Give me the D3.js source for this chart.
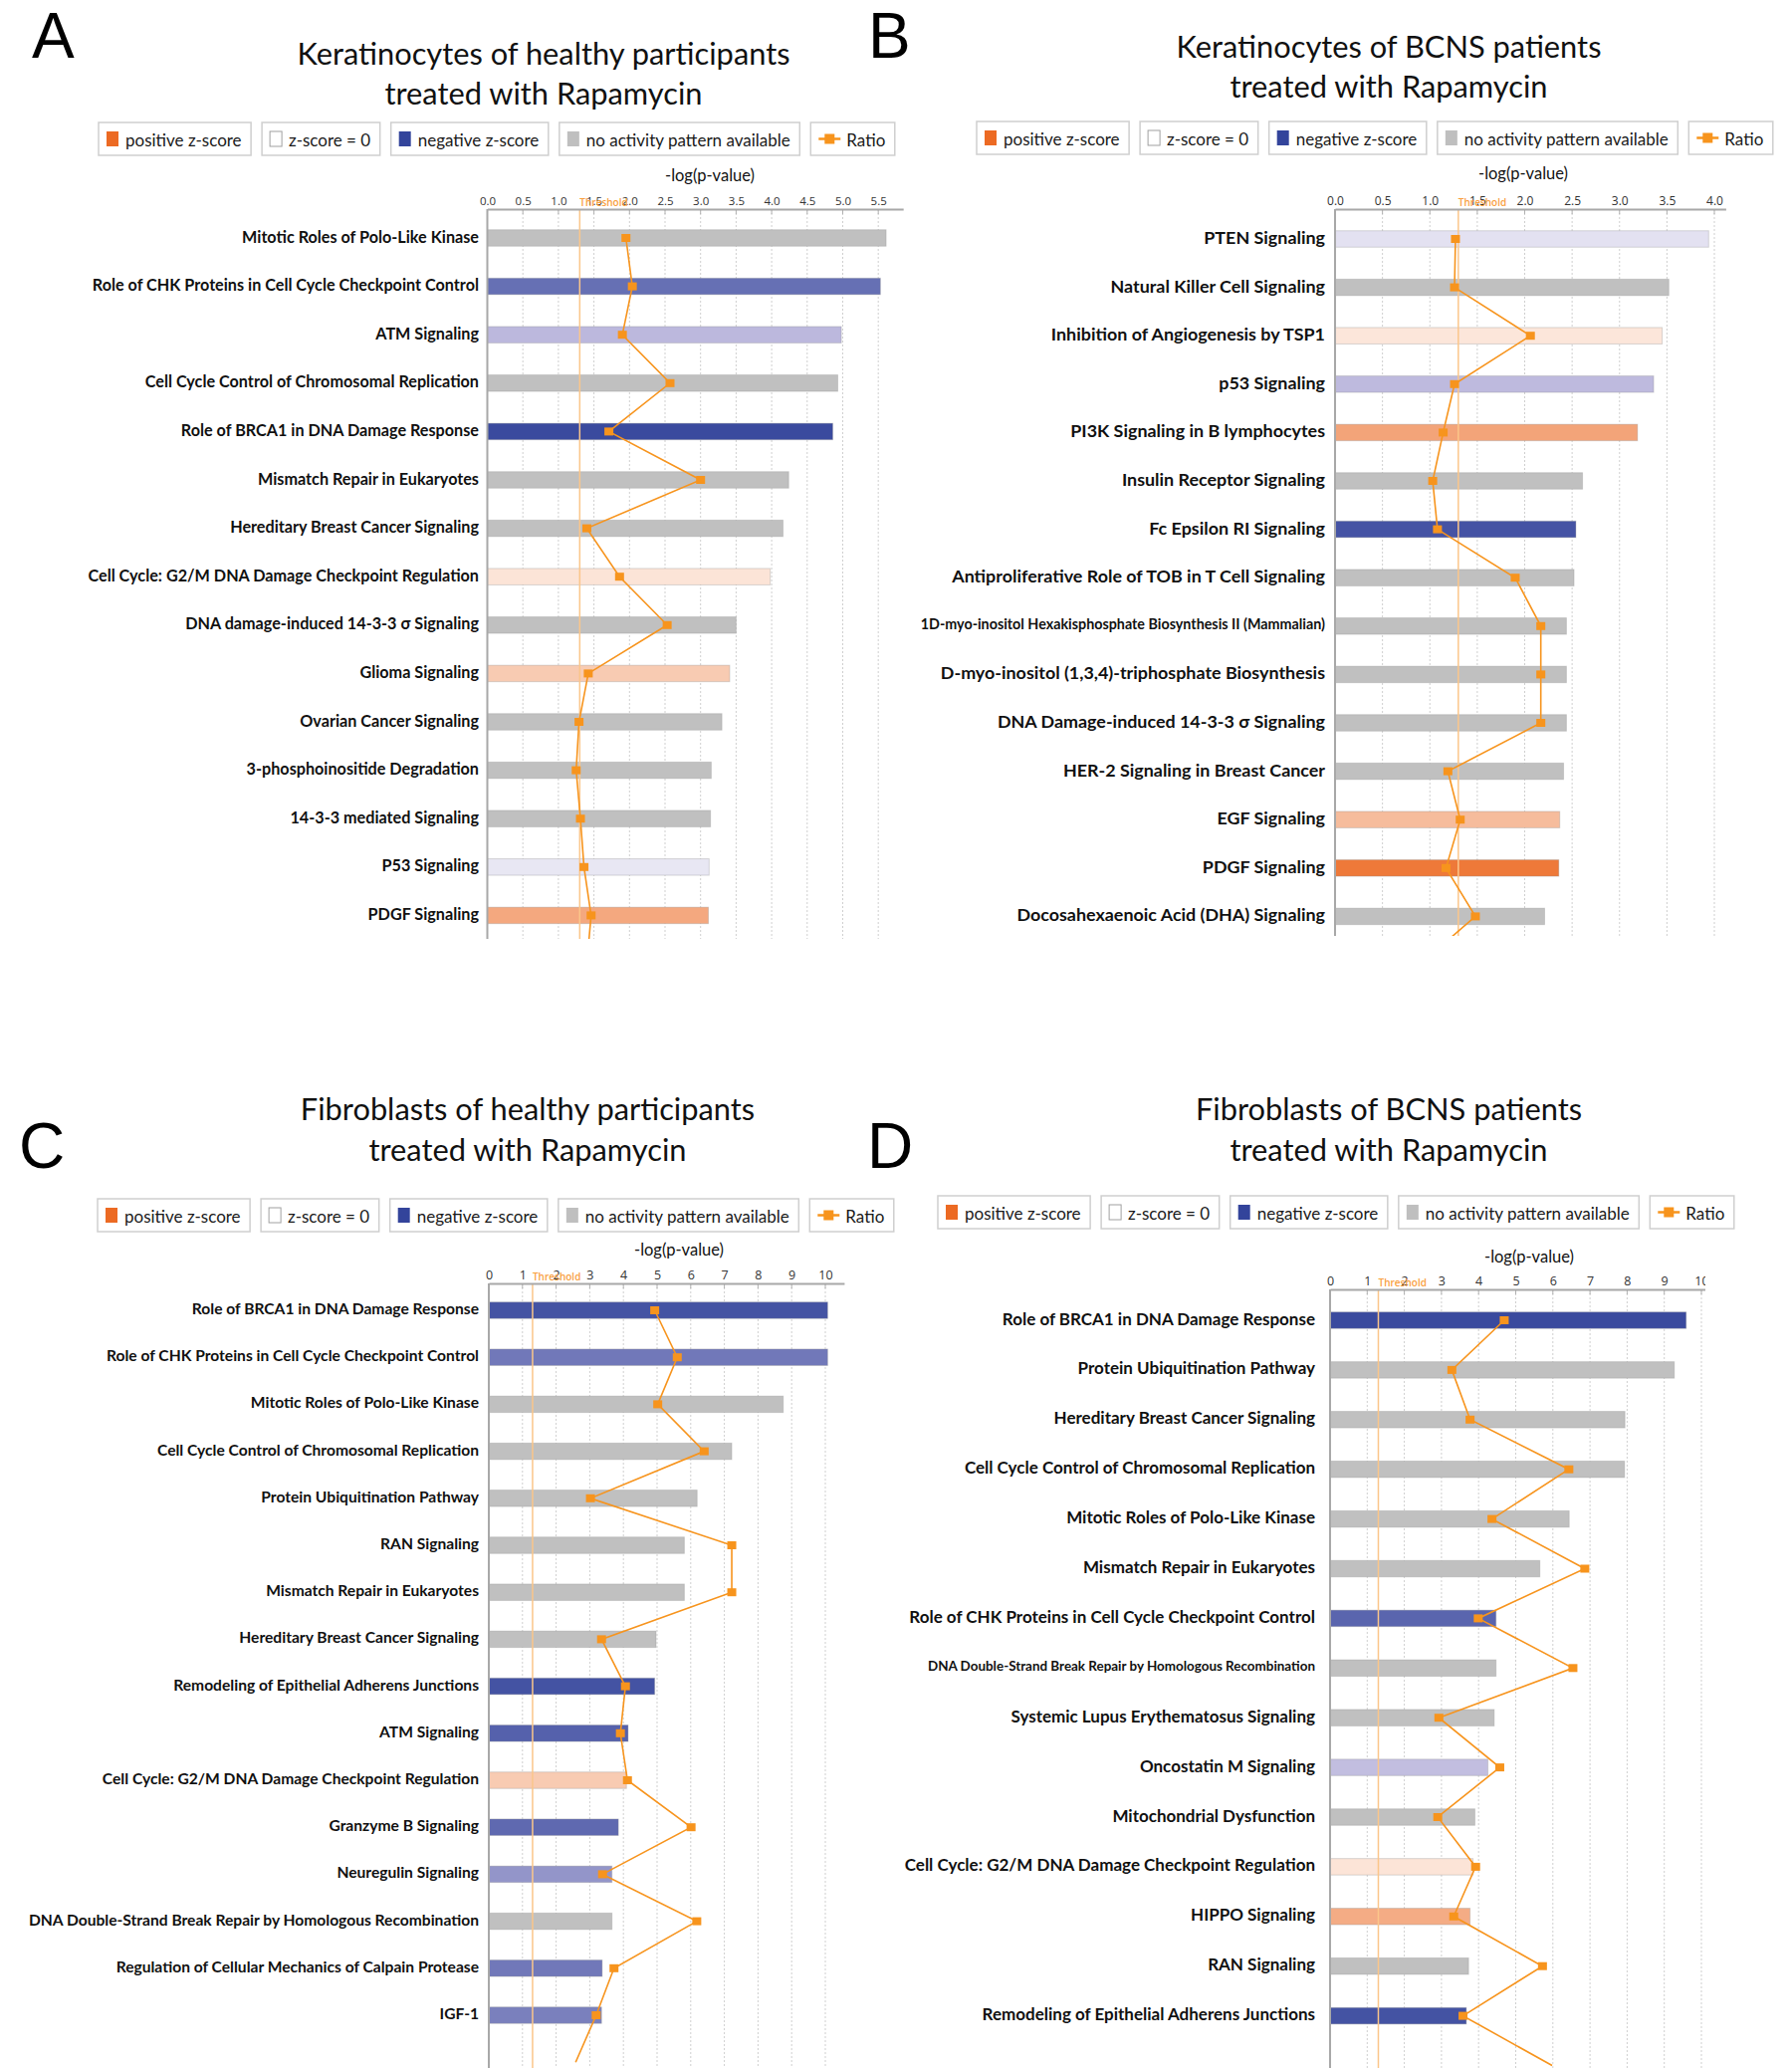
<!DOCTYPE html>
<html><head><meta charset="utf-8">
<script src="https://cdn.jsdelivr.net/npm/d3@7"></script>
<style>body{margin:0;background:#fff;} svg{display:block}</style>
</head><body>
<svg id="chart" width="1800" height="2077"></svg>
<script>
// ---------------- DATA ----------------
const legendItems = ["positive z-score", "z-score = 0", "negative z-score", "no activity pattern available", "Ratio"];
const thresholdValue = 1.3;

const titleA = ["Keratinocytes of healthy participants", "treated with Rapamycin"];
const titleB = ["Keratinocytes of BCNS patients", "treated with Rapamycin"];
const titleC = ["Fibroblasts of healthy participants", "treated with Rapamycin"];
const titleD = ["Fibroblasts of BCNS patients", "treated with Rapamycin"];

const ticksA = [0, 0.5, 1, 1.5, 2, 2.5, 3, 3.5, 4, 4.5, 5, 5.5];
const ticksB = [0, 0.5, 1, 1.5, 2, 2.5, 3, 3.5, 4];
const ticksC = [0, 1, 2, 3, 4, 5, 6, 7, 8, 9, 10];
const ticksD = [0, 1, 2, 3, 4, 5, 6, 7, 8, 9, 10];

const catsA = ["Mitotic Roles of Polo-Like Kinase", "Role of CHK Proteins in Cell Cycle Checkpoint Control", "ATM Signaling",
  "Cell Cycle Control of Chromosomal Replication", "Role of BRCA1 in DNA Damage Response", "Mismatch Repair in Eukaryotes",
  "Hereditary Breast Cancer Signaling", "Cell Cycle: G2/M DNA Damage Checkpoint Regulation", "DNA damage-induced 14-3-3 σ Signaling",
  "Glioma Signaling", "Ovarian Cancer Signaling", "3-phosphoinositide Degradation", "14-3-3 mediated Signaling",
  "P53 Signaling", "PDGF Signaling"];
const pvalA = [5.61, 5.53, 4.98, 4.93, 4.86, 4.24, 4.16, 3.98, 3.50, 3.41, 3.30, 3.15, 3.14, 3.12, 3.11];
// last ratio value belongs to the next (off-chart) pathway; only its connecting line is visible
const ratioA = [1.95, 2.04, 1.90, 2.57, 1.71, 3.00, 1.40, 1.86, 2.53, 1.42, 1.29, 1.25, 1.31, 1.36, 1.46, 1.40];
const zA = [null, -2.25, -1.0, null, -2.9, null, null, 0.55, null, 1.05, null, null, null, -0.34, 1.75];

const catsB = ["PTEN Signaling", "Natural Killer Cell Signaling", "Inhibition of Angiogenesis by TSP1", "p53 Signaling",
  "PI3K Signaling in B lymphocytes", "Insulin Receptor Signaling", "Fc Epsilon RI Signaling",
  "Antiproliferative Role of TOB in T Cell Signaling", "1D-myo-inositol Hexakisphosphate Biosynthesis II (Mammalian)",
  "D-myo-inositol (1,3,4)-triphosphate Biosynthesis", "DNA Damage-induced 14-3-3 σ Signaling",
  "HER-2 Signaling in Breast Cancer", "EGF Signaling", "PDGF Signaling", "Docosahexaenoic Acid (DHA) Signaling"];
const pvalB = [3.94, 3.52, 3.45, 3.36, 3.19, 2.61, 2.54, 2.52, 2.44, 2.44, 2.44, 2.41, 2.37, 2.36, 2.21];
const ratioB = [1.27, 1.26, 2.06, 1.26, 1.14, 1.03, 1.08, 1.90, 2.17, 2.17, 2.17, 1.19, 1.32, 1.17, 1.48, 0.89];
const zB = [-0.42, null, 0.5, -0.97, 1.83, null, -2.74, null, null, null, null, null, 1.35, 2.7, null];

const catsC = ["Role of BRCA1 in DNA Damage Response", "Role of CHK Proteins in Cell Cycle Checkpoint Control",
  "Mitotic Roles of Polo-Like Kinase", "Cell Cycle Control of Chromosomal Replication", "Protein Ubiquitination Pathway",
  "RAN Signaling", "Mismatch Repair in Eukaryotes", "Hereditary Breast Cancer Signaling",
  "Remodeling of Epithelial Adherens Junctions", "ATM Signaling", "Cell Cycle: G2/M DNA Damage Checkpoint Regulation",
  "Granzyme B Signaling", "Neuregulin Signaling", "DNA Double-Strand Break Repair by Homologous Recombination",
  "Regulation of Cellular Mechanics of Calpain Protease", "IGF-1"];
const pvalC = [10.07, 10.07, 8.75, 7.22, 6.19, 5.81, 5.81, 4.97, 4.93, 4.14, 4.09, 3.85, 3.66, 3.66, 3.37, 3.35];
const ratioC = [4.93, 5.60, 5.02, 6.40, 3.02, 7.22, 7.22, 3.35, 4.06, 3.91, 4.12, 6.01, 3.38, 6.18, 3.72, 3.19, 2.58];
const zC = [-2.75, -2.1, null, null, null, null, null, null, -2.75, -2.5, 1.05, -2.36, -1.6, null, -2.1, -1.96];

const catsD = ["Role of BRCA1 in DNA Damage Response", "Protein Ubiquitination Pathway", "Hereditary Breast Cancer Signaling",
  "Cell Cycle Control of Chromosomal Replication", "Mitotic Roles of Polo-Like Kinase", "Mismatch Repair in Eukaryotes",
  "Role of CHK Proteins in Cell Cycle Checkpoint Control", "DNA Double-Strand Break Repair by Homologous Recombination",
  "Systemic Lupus Erythematosus Signaling", "Oncostatin M Signaling", "Mitochondrial Dysfunction",
  "Cell Cycle: G2/M DNA Damage Checkpoint Regulation", "HIPPO Signaling", "RAN Signaling",
  "Remodeling of Epithelial Adherens Junctions"];
const pvalD = [9.59, 9.27, 7.94, 7.93, 6.44, 5.65, 4.47, 4.47, 4.42, 4.25, 3.90, 3.85, 3.77, 3.73, 3.67];
const ratioD = [4.69, 3.28, 3.77, 6.43, 4.36, 6.86, 3.99, 6.54, 2.93, 4.57, 2.90, 3.92, 3.33, 5.72, 3.58, 5.98];
const zD = [-2.9, null, null, null, null, null, -2.43, null, null, -0.91, null, 0.55, 1.67, null, -2.75];

// ---------------- STYLE / LAYOUT ----------------
const COL = { pos: "#ec6a23", neg: "#33449b", negLight: "#bcb8dd", gray: "#c0c0c0", ratio: "#f7941d", thr: "#fbc68a", thrText: "#f9a03f" };
const legendSwatch = [COL.pos, "#ffffff", COL.neg, "#bfbfbf", COL.ratio];
const posScale = d3.scaleLinear().domain([0, 3]).range(["#ffffff", COL.pos]).clamp(true);
const negScale = d3.scaleLinear().domain([0, -1, -3]).range(["#ffffff", COL.negLight, COL.neg]).clamp(true);
const barColor = z => z === null ? COL.gray : (z >= 0 ? posScale(z) : negScale(z));

const panels = [
  { letter: "A", lx: 32, ly: 58, title: titleA, tx: 546, ty: [53, 93], legX: 99, legY: 123,
    cats: catsA, pval: pvalA, ratio: ratioA, z: zA, ticks: ticksA, fmt: d3.format(".1f"), tickFs: 11.5,
    x0: 489.5, unit: 71.4, dmax: 5.85, axisY: 210, firstY: 239, step: 48.6, bottom: 943, labelRight: 481,
    labelFs: 16.2, small: [], smallF: 0.8, axTitleX: 713, axTitleY: 176, clipRight: 1800 },
  { letter: "B", lx: 872, ly: 58, title: titleB, tx: 1395, ty: [46, 86], legX: 981, legY: 122,
    cats: catsB, pval: pvalB, ratio: ratioB, z: zB, ticks: ticksB, fmt: d3.format(".1f"), tickFs: 12,
    x0: 1341, unit: 95.25, dmax: 4.12, axisY: 210, firstY: 240, step: 48.6, bottom: 940, labelRight: 1331,
    labelFs: 17.9, small: ["1D-myo-inositol Hexakisphosphate Biosynthesis II (Mammalian)"], smallF: 0.80, axTitleX: 1530, axTitleY: 174, clipRight: 1800 },
  { letter: "C", lx: 19, ly: 1173, title: titleC, tx: 530, ty: [1113, 1154], legX: 98, legY: 1204,
    cats: catsC, pval: pvalC, ratio: ratioC, z: zC, ticks: ticksC, fmt: d3.format("d"), tickFs: 12.5,
    x0: 491, unit: 33.8, dmax: 10.56, axisY: 1289, firstY: 1316, step: 47.2, bottom: 2077, labelRight: 481,
    labelFs: 15.6, small: [], smallF: 0.8, axTitleX: 682, axTitleY: 1255, clipRight: 1800 },
  { letter: "D", lx: 871, ly: 1173, title: titleD, tx: 1395, ty: [1113, 1154], legX: 942, legY: 1201,
    cats: catsD, pval: pvalD, ratio: ratioD, z: zD, ticks: ticksD, fmt: d3.format("d"), tickFs: 12.5,
    x0: 1336, unit: 37.3, dmax: 10.6, axisY: 1295, firstY: 1326, step: 49.9, bottom: 2077, labelRight: 1321,
    labelFs: 17.0, small: ["DNA Double-Strand Break Repair by Homologous Recombination"], smallF: 0.79, axTitleX: 1536, axTitleY: 1262, clipRight: 1713 }
];

const svg = d3.select("#chart");
const defs = svg.append("defs");

function drawLegend(g, lx, ly) {
  const h = 33;
  let cx = lx;
  legendItems.forEach((name, i) => {
    const item = g.append("g");
    const iconW = i === 4 ? 22 : 13;
    const rect = item.append("rect");
    const txt = item.append("text")
      .attr("x", cx + 8 + iconW + 6).attr("y", ly + h / 2 + 1)
      .attr("dominant-baseline", "central")
      .attr("font-family", "Lato, 'Open Sans', sans-serif").attr("font-size", 17).attr("fill", "#1a1a1a")
      .text(name);
    const tw = txt.node().getComputedTextLength();
    const w = 8 + iconW + 6 + tw + 9.5;
    rect.attr("x", cx).attr("y", ly).attr("width", w).attr("height", h)
      .attr("fill", "#fff").attr("stroke", "#cfcfcf").attr("stroke-width", 1.5);
    if (i === 4) {
      item.append("line").attr("x1", cx + 8).attr("x2", cx + 8 + iconW)
        .attr("y1", ly + h / 2).attr("y2", ly + h / 2).attr("stroke", COL.ratio).attr("stroke-width", 2.5);
      item.append("rect").attr("x", cx + 8 + iconW / 2 - 5).attr("y", ly + h / 2 - 5).attr("width", 10).attr("height", 10)
        .attr("fill", COL.ratio);
    } else {
      item.append("rect").attr("x", cx + 8).attr("y", ly + h / 2 - 7.5).attr("width", 12).attr("height", 15)
        .attr("fill", legendSwatch[i]).attr("stroke", i === 1 ? "#a0a0a0" : "none").attr("stroke-width", 1);
    }
    cx += w + 11;
  });
}

panels.forEach((p, pi) => {
  const g = svg.append("g");
  // panel letter
  g.append("text").attr("x", p.lx).attr("y", p.ly).text(p.letter)
    .attr("font-family", "'Liberation Sans', Arial, sans-serif").attr("font-size", 64).attr("fill", "#000");
  // title
  p.title.forEach((t, k) => {
    g.append("text").attr("x", p.tx).attr("y", p.ty[k]).attr("text-anchor", "middle")
      .attr("dominant-baseline", "central")
      .attr("font-family", "Lato, 'Open Sans', sans-serif").attr("font-size", 30.8).attr("fill", "#111").text(t);
  });
  drawLegend(g, p.legX, p.legY);

  const x = d3.scaleLinear().domain([0, p.dmax]).range([p.x0, p.x0 + p.dmax * p.unit]);
  const y = d3.scaleBand().domain(p.cats)
    .range([p.firstY - p.step / 2, p.firstY - p.step / 2 + p.step * p.cats.length]).padding(0);
  const yc = i => y.range()[0] + p.step * (i + 0.5);
  const barH = 16.5;

  // clip
  const cid = "clip" + pi;
  defs.append("clipPath").attr("id", cid).append("rect")
    .attr("x", p.x0 - 30).attr("y", p.axisY).attr("width", Math.min(p.clipRight, 1800) - (p.x0 - 30)).attr("height", p.bottom - p.axisY);
  const aid = "aclip" + pi;
  defs.append("clipPath").attr("id", aid).append("rect")
    .attr("x", p.x0 - 30).attr("y", p.axisY - 40).attr("width", p.clipRight - (p.x0 - 30)).attr("height", 60);

  // axis title
  g.append("text").attr("x", p.axTitleX).attr("y", p.axTitleY).attr("text-anchor", "middle")
    .attr("dominant-baseline", "central")
    .attr("font-family", "Lato, 'Open Sans', sans-serif").attr("font-size", 16.5).attr("fill", "#111").text("-log(p-value)");

  const plot = g.append("g").attr("clip-path", `url(#${cid})`);
  // gridlines
  plot.selectAll("line.grid").data(p.ticks.filter(t => t > 0)).join("line")
    .attr("x1", d => x(d)).attr("x2", d => x(d)).attr("y1", p.axisY).attr("y2", p.bottom)
    .attr("stroke", "#cfcfcf").attr("stroke-width", 1).attr("stroke-dasharray", "2,2");
  // small ticks
  plot.selectAll("line.tk").data(p.ticks).join("line")
    .attr("x1", d => x(d)).attr("x2", d => x(d)).attr("y1", p.axisY).attr("y2", p.axisY + 5)
    .attr("stroke", "#b0b0b0").attr("stroke-width", 1);
  // bars
  plot.selectAll("rect.bar").data(p.cats).join("rect")
    .attr("x", x(0)).attr("y", (d, i) => yc(i) - barH / 2)
    .attr("width", (d, i) => x(p.pval[i]) - x(0)).attr("height", barH)
    .attr("fill", (d, i) => barColor(p.z[i]))
    .attr("stroke", "rgba(150,150,150,0.35)").attr("stroke-width", 1);
  // threshold
  plot.append("line").attr("x1", x(thresholdValue)).attr("x2", x(thresholdValue))
    .attr("y1", p.axisY).attr("y2", p.bottom).attr("stroke", COL.thr).attr("stroke-width", 1.5);
  // left axis line
  plot.append("line").attr("x1", x(0)).attr("x2", x(0)).attr("y1", p.axisY).attr("y2", p.bottom)
    .attr("stroke", "#a8a8a8").attr("stroke-width", 2);
  // ratio line
  const line = d3.line().x(d => x(d[0])).y(d => d[1]);
  plot.append("path").datum(p.ratio.map((r, i) => [r, yc(i)]))
    .attr("d", line).attr("fill", "none").attr("stroke", COL.ratio).attr("stroke-width", 1.6);
  plot.selectAll("rect.mk").data(p.ratio.slice(0, p.cats.length)).join("rect")
    .attr("x", d => x(d) - 4.5).attr("y", (d, i) => yc(i) - 4).attr("width", 9).attr("height", 8)
    .attr("fill", COL.ratio);

  // top axis
  const axG = g.append("g").attr("clip-path", `url(#${aid})`);
  const ax = axG.append("g").attr("transform", `translate(0,${p.axisY})`)
    .call(d3.axisTop(x).tickValues(p.ticks).tickFormat(p.fmt).tickSizeInner(0).tickSizeOuter(0).tickPadding(4));
  ax.select(".domain").attr("stroke", "#a8a8a8").attr("stroke-width", 2);
  ax.selectAll(".tick text").attr("font-family", "'Open Sans', 'DejaVu Sans', sans-serif")
    .attr("font-size", p.tickFs).attr("fill", "#333");
  // threshold label
  axG.append("text").attr("x", x(thresholdValue)).attr("y", p.axisY - 3)
    .attr("font-family", "'Open Sans', sans-serif").attr("font-size", 10).attr("font-weight", 600)
    .attr("fill", COL.thrText).text("Threshold");

  // labels
  g.selectAll("text.lbl").data(p.cats).join("text")
    .attr("x", p.labelRight).attr("y", (d, i) => yc(i) - 2)
    .attr("text-anchor", "end").attr("dominant-baseline", "central")
    .attr("font-family", "Lato, 'Open Sans', sans-serif").attr("font-weight", 700)
    .attr("font-size", d => p.small.includes(d) ? p.labelFs * p.smallF : p.labelFs)
    .attr("fill", "#111").text(d => d);
});
</script>
</body></html>
